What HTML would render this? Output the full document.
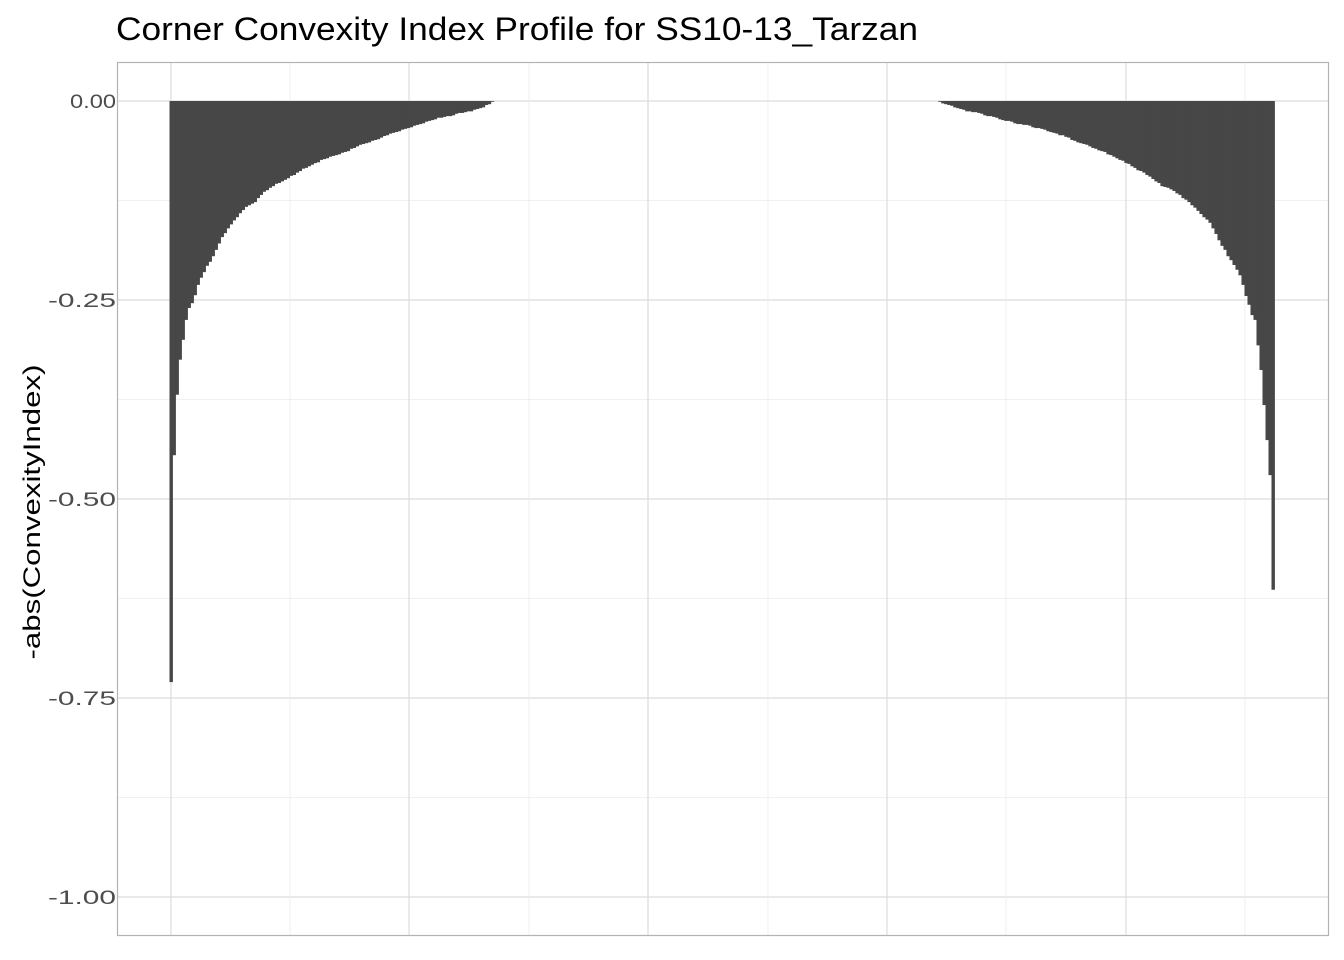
<!DOCTYPE html>
<html><head><meta charset="utf-8">
<style>
html,body{margin:0;padding:0;background:#fff;}
svg{display:block;font-family:"Liberation Sans",Arial,sans-serif;}
</style></head>
<body>
<svg id="chart" width="1344" height="960" viewBox="0 0 1344 960">
<text x="116" y="40" font-size="32" textLength="802" lengthAdjust="spacingAndGlyphs" fill="#000">Corner Convexity Index Profile for SS10-13_Tarzan</text>
<g id="grid"></g>
<g id="bars"></g>
<rect x="117.5" y="62.5" width="1211" height="873" fill="none" stroke="#b3b3b3" stroke-width="1.2"/>
<g id="yticks"></g>
<text transform="translate(40,512) rotate(-90)" text-anchor="middle" font-size="24" textLength="295" lengthAdjust="spacingAndGlyphs" fill="#000">-abs(ConvexityIndex)</text>
</svg>
<script>
const leftValues=[-0.73,-0.445,-0.369,-0.325,-0.300,-0.275,-0.260,-0.254,-0.244,-0.231,-0.222,-0.215,-0.207,-0.202,-0.195,-0.187,-0.179,-0.171,-0.166,-0.160,-0.155,-0.150,-0.146,-0.141,-0.137,-0.133,-0.131,-0.129,-0.127,-0.122,-0.118,-0.114,-0.112,-0.109,-0.107,-0.104,-0.103,-0.101,-0.099,-0.097,-0.094,-0.093,-0.090,-0.088,-0.085,-0.084,-0.082,-0.080,-0.078,-0.077,-0.074,-0.073,-0.072,-0.070,-0.069,-0.068,-0.067,-0.065,-0.064,-0.063,-0.060,-0.059,-0.057,-0.055,-0.054,-0.053,-0.052,-0.050,-0.049,-0.048,-0.046,-0.044,-0.043,-0.041,-0.040,-0.039,-0.038,-0.036,-0.035,-0.034,-0.033,-0.031,-0.030,-0.029,-0.028,-0.026,-0.025,-0.024,-0.023,-0.021,-0.021,-0.020,-0.019,-0.019,-0.018,-0.016,-0.015,-0.015,-0.014,-0.013,-0.013,-0.011,-0.010,-0.009,-0.008,-0.005,-0.004,-0.001];
const gapCount=148;
const rightValues=[-0.001,-0.003,-0.004,-0.005,-0.006,-0.008,-0.009,-0.010,-0.011,-0.013,-0.013,-0.014,-0.014,-0.015,-0.016,-0.018,-0.019,-0.019,-0.020,-0.021,-0.023,-0.024,-0.025,-0.025,-0.026,-0.028,-0.029,-0.029,-0.030,-0.030,-0.031,-0.033,-0.034,-0.034,-0.035,-0.036,-0.038,-0.039,-0.040,-0.041,-0.043,-0.043,-0.045,-0.046,-0.049,-0.050,-0.052,-0.053,-0.054,-0.055,-0.057,-0.059,-0.060,-0.062,-0.063,-0.064,-0.067,-0.068,-0.070,-0.072,-0.074,-0.075,-0.078,-0.079,-0.082,-0.084,-0.087,-0.088,-0.090,-0.093,-0.095,-0.098,-0.101,-0.103,-0.107,-0.108,-0.109,-0.111,-0.113,-0.116,-0.118,-0.122,-0.124,-0.127,-0.131,-0.134,-0.138,-0.142,-0.146,-0.149,-0.153,-0.160,-0.167,-0.175,-0.182,-0.187,-0.195,-0.200,-0.206,-0.212,-0.219,-0.231,-0.245,-0.256,-0.269,-0.275,-0.307,-0.338,-0.382,-0.426,-0.470,-0.614];
const yTicks=[0,-0.25,-0.5,-0.75,-1];
const yTickLabels=["0.00","-0.25","-0.50","-0.75","-1.00"];
const yMinor=[-0.125,-0.375,-0.625,-0.875];

const NS="http://www.w3.org/2000/svg";
const values=[];
for(const v of leftValues) values.push(v);
for(let i=0;i<gapCount;i++) values.push(0);
for(const v of rightValues) values.push(v);
const N=values.length;
const x0=171, x1=1273;
const step=(x1-x0)/(N-1);
function xScale(i){return x0+i*step;}
function yScale(v){return 101-v*796;}

const grid=document.getElementById('grid');
function line(x1_,y1_,x2_,y2_,c,w,name){
  const l=document.createElementNS(NS,'line');
  l.setAttribute('x1',x1_);l.setAttribute('y1',y1_);l.setAttribute('x2',x2_);l.setAttribute('y2',y2_);
  l.setAttribute('stroke',c);l.setAttribute('stroke-width',w);
  
  
  grid.appendChild(l);
}
for(const v of yMinor){ line(118,yScale(v),1328,yScale(v),'#ececec',0.8,'y-minor-gridline'); }
for(const v of yTicks){ line(118,yScale(v),1328,yScale(v),'#dcdcdc',1.2,'y-major-gridline'); }
const xMajor=[171,409,648,887,1126], xMinorG=[290,529,768,1006,1245];
for(const x of xMinorG){ line(x,63,x,935,'#ececec',0.8,'x-minor-gridline'); }
for(const x of xMajor){ line(x,63,x,935,'#dcdcdc',1.2,'x-major-gridline'); }

const bars=document.getElementById('bars');
values.forEach((v,i)=>{
  if(v===0) return;
  const r=document.createElementNS(NS,'rect');
  const y=yScale(0), yb=yScale(v);
  r.setAttribute('x',xScale(i)-step/2);
  r.setAttribute('width',step+0.4);
  r.setAttribute('y',y);
  r.setAttribute('height',Math.max(0,yb-y));
  r.setAttribute('fill','#474747');
  
  
  bars.appendChild(r);
});

const yt=document.getElementById('yticks');
yTicks.forEach((v,i)=>{
  const t=document.createElementNS(NS,'text');
  const lab=yTickLabels[i];
  t.setAttribute('x',116);t.setAttribute('y',yScale(v)+7);
  t.setAttribute('text-anchor','end');t.setAttribute('font-size','19');t.setAttribute('fill','#4d4d4d');
  t.setAttribute('textLength', lab.startsWith('-') ? 68 : 46);
  t.setAttribute('lengthAdjust','spacingAndGlyphs');
  t.textContent=lab;
  
  
  yt.appendChild(t);
});
</script>
</body></html>
